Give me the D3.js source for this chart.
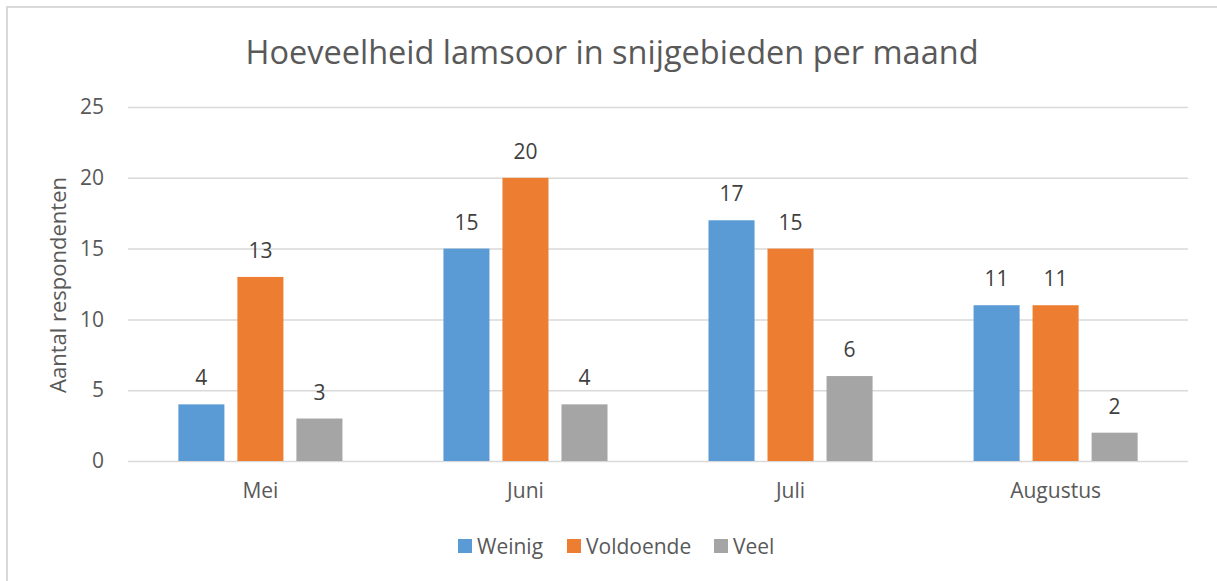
<!DOCTYPE html>
<html>
<head>
<meta charset="utf-8">
<script src="https://cdn.jsdelivr.net/npm/d3@7"></script>
<style>
  body { margin: 0; background: #fff; }
  svg { display: block; font-family: "Open Sans", sans-serif; }
</style>
</head>
<body>
<svg width="1217" height="581"></svg>
<script>
// Data
var months = ["Mei", "Juni", "Juli", "Augustus"];
var series = ["Weinig", "Voldoende", "Veel"];
var weinig = [4, 15, 17, 11];
var voldoende = [13, 20, 15, 11];
var veel = [3, 4, 6, 2];
var yTicks = [0, 5, 10, 15, 20, 25];
var colors = ["#5b9bd5", "#ed7d31", "#a5a5a5"];

var values = [weinig, voldoende, veel];

var svg = d3.select("svg"),
  width = +svg.attr("width"),
  height = +svg.attr("height");

var margin = { left: 128, right: 29, top: 107, bottom: 120 };
var fs = "21px";

// outer chart border (only left and top visible in the crop)
svg.append("rect")
  .attr("x", 7).attr("y", 7)
  .attr("width", width + 20).attr("height", height + 20)
  .attr("fill", "none")
  .attr("stroke", "#d9d9d9")
  .attr("stroke-width", 2);

// scales
var x0 = d3.scaleBand()
  .domain(months)
  .range([margin.left, width - margin.right])
  .paddingInner(0.381)
  .paddingOuter(0.19);

var x1 = d3.scaleBand()
  .domain(series)
  .range([0, x0.bandwidth()])
  .paddingInner(0.22);

var y = d3.scaleLinear()
  .domain([0, 25])
  .range([height - margin.bottom, margin.top]);

// title
svg.append("text")
  .attr("x", 612)
  .attr("y", 64)
  .attr("text-anchor", "middle")
  .attr("fill", "#595959")
  .style("font-size", "32.5px")
  .text("Hoeveelheid lamsoor in snijgebieden per maand");

// gridlines + y labels
var yAxis = d3.axisLeft(y)
  .tickValues(yTicks)
  .tickSize(-(width - margin.left - margin.right))
  .tickPadding(24);

var gy = svg.append("g")
  .attr("transform", "translate(" + margin.left + ",0)")
  .call(yAxis);
gy.select(".domain").remove();
gy.selectAll(".tick line").attr("stroke", "#d9d9d9").attr("stroke-width", 1.5);
gy.selectAll(".tick text")
  .attr("fill", "#595959")
  .style("font-size", fs)
  .style("font-family", "Open Sans, sans-serif");

// y axis title
svg.append("text")
  .attr("transform", "translate(66,285) rotate(-90)")
  .attr("text-anchor", "middle")
  .attr("fill", "#595959")
  .style("font-size", "22px")
  .text("Aantal respondenten");

// x labels
var xAxis = d3.axisBottom(x0).tickSize(0).tickPadding(22);
var gx = svg.append("g")
  .attr("transform", "translate(0," + y(0) + ")")
  .call(xAxis);
gx.select(".domain").remove();
gx.selectAll(".tick text")
  .attr("fill", "#595959")
  .style("font-size", fs)
  .style("font-family", "Open Sans, sans-serif");

// bars
var groups = svg.append("g")
  .selectAll("g")
  .data(months)
  .enter()
  .append("g")
  .attr("transform", function (d) { return "translate(" + x0(d) + ",0)"; });

var cells = groups.selectAll("g")
  .data(function (m, i) {
    return series.map(function (s, j) {
      return { series: s, value: values[j][i], color: colors[j] };
    });
  })
  .enter()
  .append("g");

cells.append("rect")
  .attr("x", function (d) { return x1(d.series); })
  .attr("y", function (d) { return y(d.value); })
  .attr("width", x1.bandwidth())
  .attr("height", function (d) { return y(0) - y(d.value); })
  .attr("fill", function (d) { return d.color; });

// value labels
cells.append("text")
  .attr("x", function (d) { return x1(d.series) + x1.bandwidth() / 2; })
  .attr("y", function (d) { return y(d.value) - 19; })
  .attr("text-anchor", "middle")
  .attr("fill", "#404040")
  .style("font-size", fs)
  .text(function (d) { return d.value; });

// legend
var legendX = [458, 567, 714];
var legend = svg.append("g")
  .selectAll("g")
  .data(series)
  .enter()
  .append("g")
  .attr("transform", function (d, i) { return "translate(" + legendX[i] + ",539)"; });

legend.append("rect")
  .attr("width", 14)
  .attr("height", 14)
  .attr("fill", function (d, i) { return colors[i]; });

legend.append("text")
  .attr("x", 19)
  .attr("y", 14.5)
  .attr("fill", "#595959")
  .style("font-size", fs)
  .text(function (d) { return d; });
</script>
</body>
</html>
